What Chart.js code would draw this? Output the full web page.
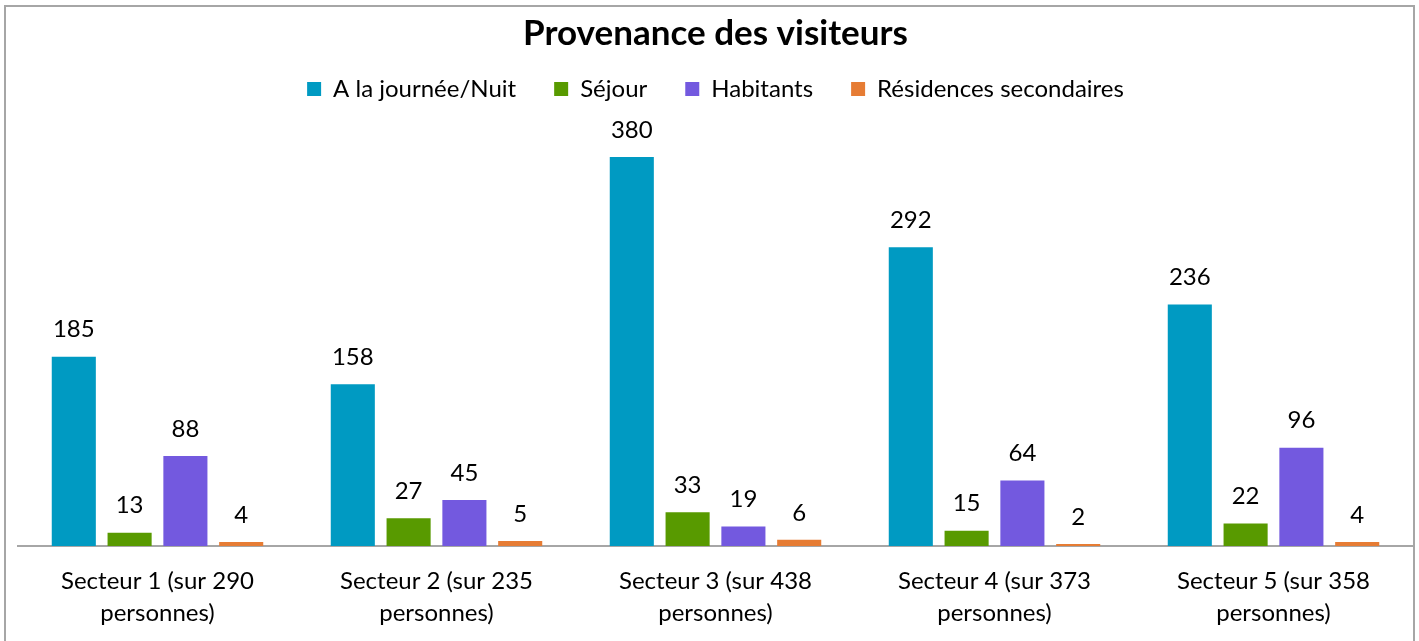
<!DOCTYPE html>
<html>
<head>
<meta charset="utf-8">
<script src="https://cdn.jsdelivr.net/npm/chart.js@4/dist/chart.umd.min.js"></script>
<style>
  html, body { margin: 0; padding: 0; background: #fff; }
  #wrap { position: relative; width: 1419px; height: 641px; }
  #frame { position: absolute; left: 4px; top: 5px; width: 1407px; height: 700px; border: 2px solid #A6A6A6; pointer-events: none; }
  canvas { display: block; }
</style>
</head>
<body>
<div id="wrap">
  <canvas id="c" width="1419" height="641"></canvas>
  <div id="frame"></div>
</div>
<script>
const categories = [
  ["Secteur 1 (sur 290", "personnes)"],
  ["Secteur 2 (sur 235", "personnes)"],
  ["Secteur 3 (sur 438", "personnes)"],
  ["Secteur 4 (sur 373", "personnes)"],
  ["Secteur 5 (sur 358", "personnes)"]
];
const seriesNames = ["A la journée/Nuit", "Séjour", "Habitants", "Résidences secondaires"];
const journeeNuit = [185, 158, 380, 292, 236];
const sejour = [13, 27, 33, 15, 22];
const habitants = [88, 45, 19, 64, 96];
const residences = [4, 5, 6, 2, 4];
const colors = ["#009AC2", "#589A00", "#7359DF", "#E67C34"];

const FONT = "Lato, 'Open Sans', sans-serif";

const valueLabels = {
  id: 'valueLabels',
  afterDatasetsDraw(chart) {
    const ctx = chart.ctx;
    ctx.save();
    ctx.font = "24px " + FONT;
    ctx.fillStyle = "#000";
    ctx.textAlign = "center";
    ctx.textBaseline = "middle";
    chart.data.datasets.forEach((ds, i) => {
      const meta = chart.getDatasetMeta(i);
      meta.data.forEach((bar, j) => {
        ctx.fillText(String(ds.data[j]), bar.x, bar.y - 27);
      });
    });
    ctx.restore();
  }
};

new Chart(document.getElementById('c'), {
  type: 'bar',
  data: {
    labels: categories,
    datasets: [
      { label: seriesNames[0], data: journeeNuit, backgroundColor: colors[0] },
      { label: seriesNames[1], data: sejour, backgroundColor: colors[1] },
      { label: seriesNames[2], data: habitants, backgroundColor: colors[2] },
      { label: seriesNames[3], data: residences, backgroundColor: colors[3] }
    ]
  },
  options: {
    responsive: false,
    animation: false,
    layout: { padding: { left: 18, right: 6, top: 0, bottom: 12 } },
    datasets: { bar: { categoryPercentage: 0.8, barPercentage: 0.79 } },
    plugins: {
      title: {
        display: true,
        text: "Provenance des visiteurs",
        color: "#000",
        font: { family: FONT, size: 35, weight: 'bold' },
        padding: { top: 13, bottom: -16 }
      },
      legend: {
        display: true,
        labels: {
          color: "#000",
          font: { family: FONT, size: 24 },
          boxWidth: 14, boxHeight: 14,
          padding: 38
        }
      },
      tooltip: { enabled: false }
    },
    scales: {
      x: {
        afterFit(scale) { scale.height = 83; },
        grid: { display: false, drawTicks: false },
        border: { display: true, color: "#A6A6A6", width: 2 },
        ticks: {
          color: "#000",
          font: { family: FONT, size: 24, lineHeight: 1.33 },
          padding: 19,
          maxRotation: 0, autoSkip: false
        }
      },
      y: {
        display: false,
        min: 0, max: 425
      }
    }
  },
  plugins: [valueLabels]
});
</script>
</body>
</html>
